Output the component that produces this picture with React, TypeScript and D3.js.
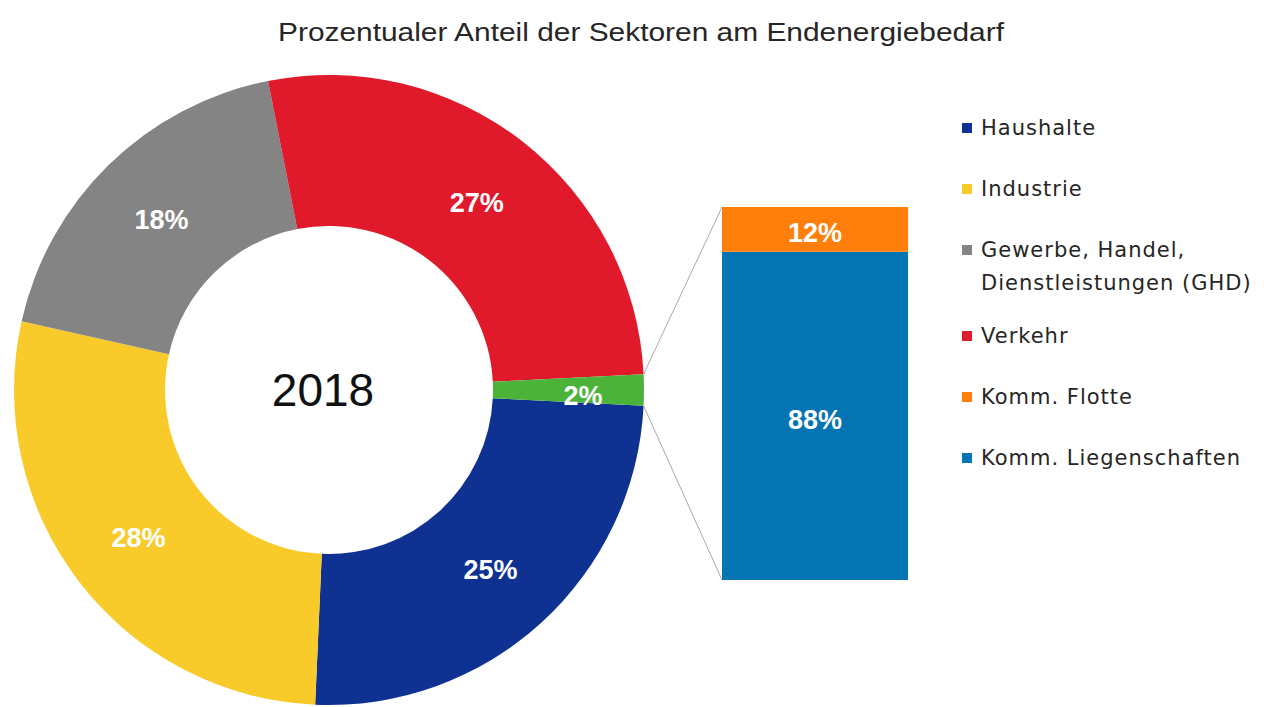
import React from "react";
import * as d3 from "d3";

const title = "Prozentualer Anteil der Sektoren am Endenergiebedarf";
const centerLabel = "2018";

const sectors = ["Haushalte", "Industrie", "Gewerbe, Handel, Dienstleistungen (GHD)", "Verkehr", "Kommunal"];
const sectorValues = [24.9, 27.8, 18.4, 27.3, 1.6];
const sectorColors = ["#0f3192", "#f8cb2b", "#848484", "#e01a2b", "#4cb33a"];

const kommCategories = ["Komm. Liegenschaften", "Komm. Flotte"];
const kommValues = [88, 12];
const kommColors = ["#0474b3", "#ff7f0a"];

const legendLabels = [
  ["Haushalte"],
  ["Industrie"],
  ["Gewerbe, Handel,", "Dienstleistungen (GHD)"],
  ["Verkehr"],
  ["Komm. Flotte"],
  ["Komm. Liegenschaften"],
];
const legendColors = ["#0f3192", "#f8cb2b", "#848484", "#e01a2b", "#ff7f0a", "#0474b3"];

const W = 1264;
const H = 707;
const cx = 329;
const cy = 390;
const rOuter = 315;
const rInner = 164;

export default function App() {
  const total = d3.sum(sectorValues);
  const greenAngle = (sectorValues[4] / total) * 2 * Math.PI;
  const start = Math.PI / 2 + greenAngle / 2;
  const pie = d3
    .pie<number>()
    .sort(null)
    .value((d) => d)
    .startAngle(start)
    .endAngle(start + 2 * Math.PI);
  const arcs = pie(sectorValues);
  const arc = d3.arc<d3.PieArcDatum<number>>().innerRadius(rInner).outerRadius(rOuter);
  const labelArc = d3.arc<d3.PieArcDatum<number>>().innerRadius(240).outerRadius(240);
  const greenLabelArc = d3.arc<d3.PieArcDatum<number>>().innerRadius(254).outerRadius(254);
  const pct = d3.format(".0f");

  // bar of pie
  const barX = d3.scaleBand<string>().domain(["komm"]).range([722, 908]).padding(0);
  const barY = d3.scaleLinear().domain([0, 100]).range([580, 207]);
  const stacked = kommValues.map((v, i) => {
    const y0 = d3.sum(kommValues.slice(0, i));
    return { v, y0, y1: y0 + v, color: kommColors[i], name: kommCategories[i] };
  });
  const bx = barX("komm") as number;
  const bw = barX.bandwidth();

  const g = arcs[4];
  const p1 = [cx + rOuter * Math.sin(g.startAngle), cy - rOuter * Math.cos(g.startAngle)];
  const p2 = [cx + rOuter * Math.sin(g.endAngle), cy - rOuter * Math.cos(g.endAngle)];

  const font = "'Liberation Sans', Arial, sans-serif";
  const legendFont = "'DejaVu Sans', 'Liberation Sans', sans-serif";
  const textColor = "#262626";

  const legendRows: { lines: string[]; color: string; y: number }[] = [];
  let ly = 128;
  legendLabels.forEach((lines, i) => {
    legendRows.push({ lines, color: legendColors[i], y: ly });
    ly += 61 + (lines.length - 1) * 25;
  });

  return (
    <svg width={W} height={H} style={{ position: "absolute", left: 0, top: 0, display: "block", background: "#fff" }}>
      <text x={641} y={32} textAnchor="middle" dominantBaseline="central" fontFamily={font} fontSize={25} fill={textColor} textLength={726} lengthAdjust="spacingAndGlyphs">
        {title}
      </text>

      <g transform={`translate(${cx},${cy})`}>
        {arcs.map((a, i) => (
          <path key={sectors[i]} d={arc(a) as string} fill={sectorColors[i]} />
        ))}
        {arcs.map((a, i) => {
          const c = i === 4 ? greenLabelArc.centroid(a) : labelArc.centroid(a);
          return (
            <text key={"l" + i} x={c[0]} y={c[1] + (i === 4 ? 6 : 2)} textAnchor="middle" dominantBaseline="central" fontFamily={font} fontWeight="bold" fontSize={27} fill="#fff">
              {pct(sectorValues[i])}%
            </text>
          );
        })}
        <text x={-6} y={0} textAnchor="middle" dominantBaseline="central" fontFamily={font} fontSize={46} fill="#111">
          {centerLabel}
        </text>
      </g>

      <line x1={p1[0]} y1={p1[1]} x2={bx} y2={barY(100)} stroke="#a8a8a8" strokeWidth={1} />
      <line x1={p2[0]} y1={p2[1]} x2={bx} y2={barY(0)} stroke="#a8a8a8" strokeWidth={1} />

      {stacked.map((s) => (
        <g key={s.name}>
          <rect x={bx} y={barY(s.y1)} width={bw} height={barY(s.y0) - barY(s.y1)} fill={s.color} />
          <text x={bx + bw / 2} y={(barY(s.y0) + barY(s.y1)) / 2 + 4} textAnchor="middle" dominantBaseline="central" fontFamily={font} fontWeight="bold" fontSize={27} fill="#fff">
            {s.v}%
          </text>
        </g>
      ))}

      {legendRows.map((r, i) => (
        <g key={"lg" + i}>
          <rect x={962} y={r.y - 5} width={10} height={10} fill={r.color} />
          {r.lines.map((t, j) => (
            <text key={j} x={981} y={r.y + j * 33} dominantBaseline="central" fontFamily={legendFont} fontSize={21} letterSpacing={1} fill={textColor}>
              {t}
            </text>
          ))}
        </g>
      ))}
    </svg>
  );
}
